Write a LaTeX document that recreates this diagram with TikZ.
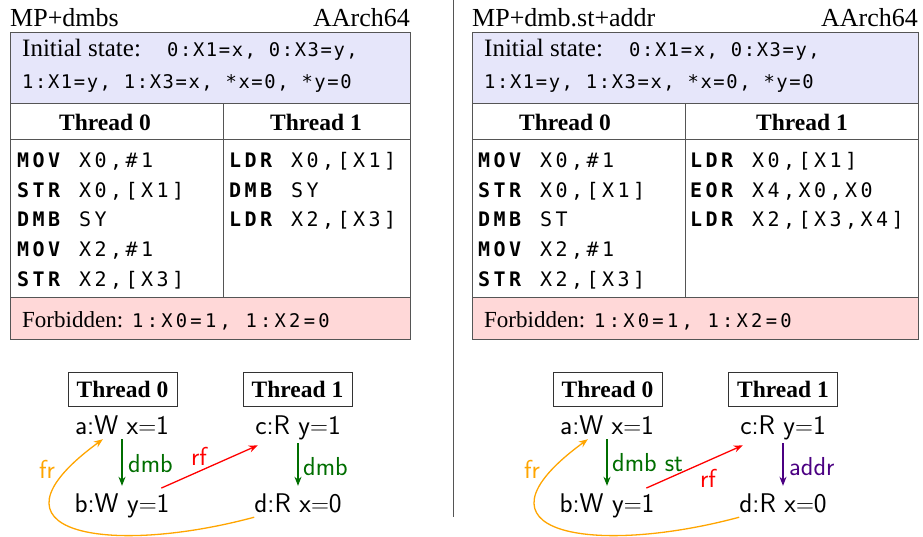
\documentclass[tikz,border=0pt]{standalone}
\usepackage{fontspec}
\setmainfont{Liberation Serif}
\newfontfamily\codemono[LetterSpace=17.3]{DejaVu Sans Mono}
\usetikzlibrary{arrows.meta}
\definecolor{lav}{RGB}{230,230,250}
\definecolor{pinkf}{RGB}{255,216,216}
\definecolor{dmbgreen}{RGB}{0,110,0}
\definecolor{frorange}{RGB}{255,165,0}
\definecolor{addrpurple}{RGB}{75,0,130}
\definecolor{bordergray}{RGB}{85,85,85}
\newcommand\imono{\fontsize{18.8}{22}\codemono\addfontfeature{LetterSpace=8.5}}
\begin{document}
\begin{tikzpicture}[x=1pt,y=-1pt,
  frame/.style={draw=bordergray, line width=1pt},
  ttl/.style={inner sep=0, font=\fontsize{26}{30}\selectfont},
  txt/.style={anchor=base west, inner sep=0, font=\fontsize{25}{29}\selectfont},
  ftxt/.style={anchor=base west, inner sep=0, font=\fontsize{23}{27}\selectfont},
  mono/.style={anchor=base west, inner sep=0, font=\imono},
  fmono/.style={anchor=base west, inner sep=0, font=\fontsize{18.8}{22}\codemono},
  hdr/.style={anchor=base, inner sep=0, font=\fontsize{23.5}{27}\selectfont\bfseries},
  code/.style={anchor=base west, inner sep=0, font=\fontsize{20}{24}\codemono},
  tbox/.style={draw=black!80, line width=0.8pt, font=\fontsize{23.5}{27}\selectfont\bfseries, minimum width=109pt, minimum height=34pt, inner sep=0},
  ev/.style={font=\sffamily\fontsize{27}{31}\selectfont, inner sep=0, text height=18pt, text depth=5pt, anchor=base},
  lbl/.style={font=\sffamily\fontsize{26}{30}\selectfont, inner sep=0},
  arr/.style={line width=1.3pt, -{Stealth[length=9pt,width=7pt]}},
  dmbarr/.style={arr, draw=dmbgreen},
  rfarr/.style={arr, draw=red},
  frarr/.style={arr, draw=frorange},
  addrarr/.style={arr, draw=addrpurple}
]
\useasboundingbox (0,0) rectangle (923,536);

% separator
\draw[bordergray, line width=0.8pt] (453,0) -- (453,517);

%%%%%%%%%%%%%%%% LEFT PANEL
\node[ttl, anchor=base west] (tl) at (10,26) {MP+dmbs};
\node[ttl, anchor=base east] (al) at (410,26) {AArch64};
\fill[lav] (10,32) rectangle (410,103);
\fill[pinkf] (10,297) rectangle (410,339);
\draw[frame] (10,32) rectangle (410,339);
\draw[frame] (10,103) -- (410,103);
\draw[frame] (10,139) -- (410,139);
\draw[frame] (10,297) -- (410,297);
\draw[frame] (223,103) -- (223,297);
\node[txt] (il1) at (22,56) {Initial state:};
\node[mono] (il1m) at (167,56) {0:X1=x, 0:X3=y,};
\node[mono] (il2) at (22,88) {1:X1=y, 1:X3=x, *x=0, *y=0};
\node[hdr] (h0) at (105,130) {Thread 0};
\node[hdr] (h1) at (316,130) {Thread 1};
\node[code] (p0l1) at (17,167) {\textbf{MOV} X0,\#1};
\node[code] (p0l2) at (17,197) {\textbf{STR} X0,[X1]};
\node[code] (p0l3) at (17,226) {\textbf{DMB} SY};
\node[code] (p0l4) at (17,256) {\textbf{MOV} X2,\#1};
\node[code] (p0l5) at (17,286) {\textbf{STR} X2,[X3]};
\node[code] (p1l1) at (229,167) {\textbf{LDR} X0,[X1]};
\node[code] (p1l2) at (229,197) {\textbf{DMB} SY};
\node[code] (p1l3) at (229,226) {\textbf{LDR} X2,[X3]};
\node[ftxt] (fl) at (22,327) {Forbidden:};
\node[fmono] (flm) at (132,327) {1:X0=1, 1:X2=0};

% graph left
\node[tbox] (t0) at (122.5,389) {Thread 0};
\node[tbox] (t1) at (297.5,389) {Thread 1};
\node[ev] (a) at (122,434) {a:W x$=$1};
\node[ev] (b) at (122,512) {b:W y$=$1};
\node[ev] (c) at (298,434) {c:R y$=$1};
\node[ev] (d) at (298,512) {d:R x$=$0};
\draw[dmbarr, shorten >=8pt] (a.south) -- (b.north);
\node[lbl, text=dmbgreen, anchor=west] (l1) at (128,464) {dmb};
\draw[dmbarr, shorten <=4pt, shorten >=8pt] (c.south) -- (d.north);
\node[lbl, text=dmbgreen, anchor=west] (l2) at (303,467) {dmb};
\draw[rfarr, shorten <=43pt, shorten >=44pt] (b.center) -- (c.center);
\node[lbl, text=red] (l3) at (199,456) {rf};
\draw[frarr] (d.south west) .. controls +(-145,39) and +(-130,95) .. ([xshift=28pt]a.south west);
\node[lbl, text=frorange] (l4) at (47,469) {fr};

%%%%%%%%%%%%%%%% RIGHT PANEL
\node[ttl, anchor=base west] (tr) at (472,26) {MP+dmb.st+addr};
\node[ttl, anchor=base east] (ar) at (918,26) {AArch64};
\fill[lav] (472,32) rectangle (918,103);
\fill[pinkf] (472,297) rectangle (918,339);
\draw[frame] (472,32) rectangle (918,339);
\draw[frame] (472,103) -- (918,103);
\draw[frame] (472,139) -- (918,139);
\draw[frame] (472,297) -- (918,297);
\draw[frame] (685,103) -- (685,297);
\node[txt] (ir1) at (484,56) {Initial state:};
\node[mono] (ir1m) at (629,56) {0:X1=x, 0:X3=y,};
\node[mono] (ir2) at (484,88) {1:X1=y, 1:X3=x, *x=0, *y=0};
\node[hdr] (rh0) at (565,130) {Thread 0};
\node[hdr] (rh1) at (802,130) {Thread 1};
\node[code] (q0l1) at (478,167) {\textbf{MOV} X0,\#1};
\node[code] (q0l2) at (478,197) {\textbf{STR} X0,[X1]};
\node[code] (q0l3) at (478,226) {\textbf{DMB} ST};
\node[code] (q0l4) at (478,256) {\textbf{MOV} X2,\#1};
\node[code] (q0l5) at (478,286) {\textbf{STR} X2,[X3]};
\node[code] (q1l1) at (690,167) {\textbf{LDR} X0,[X1]};
\node[code] (q1l2) at (690,197) {\textbf{EOR} X4,X0,X0};
\node[code] (q1l3) at (690,226) {\textbf{LDR} X2,[X3,X4]};
\node[ftxt] (fr2) at (484,327) {Forbidden:};
\node[fmono] (fr2m) at (594,327) {1:X0=1, 1:X2=0};

% graph right
\node[tbox] (u0) at (607.5,389) {Thread 0};
\node[tbox] (u1) at (783,389) {Thread 1};
\node[ev] (a2) at (607,434) {a:W x$=$1};
\node[ev] (b2) at (607,512) {b:W y$=$1};
\node[ev] (c2) at (783,434) {c:R y$=$1};
\node[ev] (d2) at (783,512) {d:R x$=$0};
\draw[dmbarr, shorten >=8pt] (a2.south) -- (b2.north);
\node[lbl, text=dmbgreen, anchor=west] (m1) at (612,463) {dmb st};
\draw[addrarr, shorten <=4pt, shorten >=8pt] (c2.south) -- (d2.north);
\node[lbl, text=addrpurple, anchor=west] (m2) at (789,467) {addr};
\draw[rfarr, shorten <=43pt, shorten >=44pt] (b2.center) -- (c2.center);
\node[lbl, text=red] (m3) at (708,478) {rf};
\draw[frarr] (d2.south west) .. controls +(-145,39) and +(-130,95) .. ([xshift=28pt]a2.south west);
\node[lbl, text=frorange] (m4) at (532,469) {fr};
\end{tikzpicture}
\end{document}
